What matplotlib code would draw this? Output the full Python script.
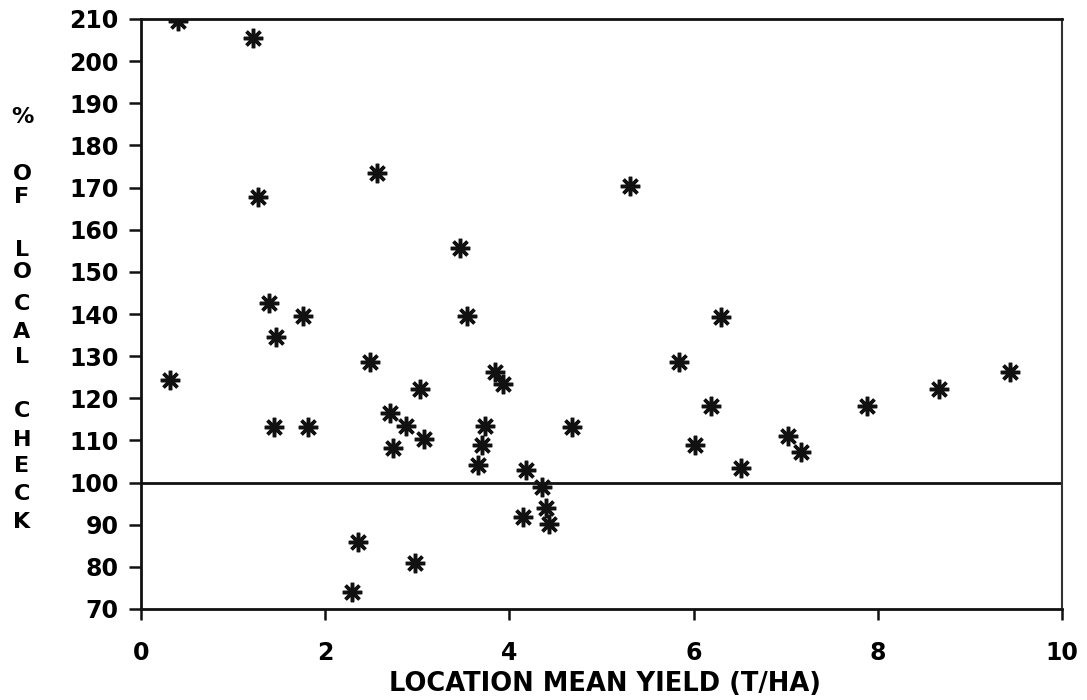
import numpy as np
import matplotlib
matplotlib.use('Agg')
import matplotlib.pyplot as plt

# location mean yield (t/ha) and yield as % of local check
yield_tha = [0.40, 1.22, 1.27, 0.31, 1.39, 1.76, 1.47, 1.44, 1.81,
             2.56, 3.46, 3.54, 2.49, 3.03, 3.84, 3.93, 2.70, 2.88,
             3.07, 2.74, 3.73, 3.70, 3.66, 4.18, 4.35, 4.40, 4.15,
             4.43, 2.36, 2.98, 2.29, 4.68, 5.31, 6.30, 5.84, 6.19,
             6.02, 7.02, 7.17, 6.52, 7.88, 8.66, 9.44]
pct_check = [209.6, 205.4, 167.8, 124.3, 142.5, 139.5, 134.6, 113.1, 113.1,
             173.5, 155.6, 139.5, 128.5, 122.3, 126.3, 123.5, 116.4, 113.4,
             110.3, 108.1, 113.4, 108.9, 104.2, 103.1, 98.9, 94.0, 91.9,
             90.1, 86.0, 80.8, 74.0, 113.3, 170.4, 139.4, 128.5, 118.2,
             108.9, 111.1, 107.2, 103.5, 118.2, 122.3, 126.3]

x_ticks = [0, 2, 4, 6, 8, 10]
y_ticks = list(range(70, 211, 10))
ref_level = 100

x_label = 'LOCATION MEAN YIELD (T/HA)'
y_label = '% OF LOCAL CHECK'

W, H = 1087, 700
fig = plt.figure(figsize=(W / 100, H / 100), dpi=100)
ax = fig.add_axes([141 / W, 1 - 609 / H, (1062 - 141) / W, (609 - 19) / H])

ax.plot(yield_tha, pct_check, linestyle='none', marker=(8, 2, 0),
        markersize=14, markeredgewidth=2.5, color='#111111')
ax.axhline(ref_level, color='#111111', lw=2)

ax.set_xlim(0, 10)
ax.set_ylim(70, 210)
ax.set_xticks(x_ticks)
ax.set_yticks(y_ticks)

font = dict(family='DejaVu Sans', weight='bold')
ax.set_xticklabels([str(v) for v in x_ticks], fontsize=17, **font)
ax.set_yticklabels([str(v) for v in y_ticks], fontsize=17, **font)
ax.tick_params(axis='x', direction='out', length=8, width=1.8, pad=15,
               color='#111111')
ax.tick_params(axis='y', direction='out', length=9, width=1.8, pad=7,
               color='#111111')
for side in ['left', 'bottom', 'top']:
    ax.spines[side].set_linewidth(2)
    ax.spines[side].set_color('#111111')
ax.spines['right'].set_linewidth(1.5)
ax.spines['right'].set_color('#333333')

ax.set_xlabel(x_label, fontsize=18.5, **font)
ax.xaxis.set_label_coords(0.504, -(671 - 609) / (609 - 19))

# vertical stacked axis title, one letter per row
letter_rows = [117, 174, 197, 250, 272, 304, 332, 357, 411, 440, 466, 494, 522]
letters = [c for c in y_label if c != ' ']
for c, yp in zip(letters, letter_rows):
    fig.text(22 / W, 1 - yp / H, c, ha='center', va='center',
             fontsize=16, **font)

fig.savefig('out.png', dpi=100, facecolor='white')
